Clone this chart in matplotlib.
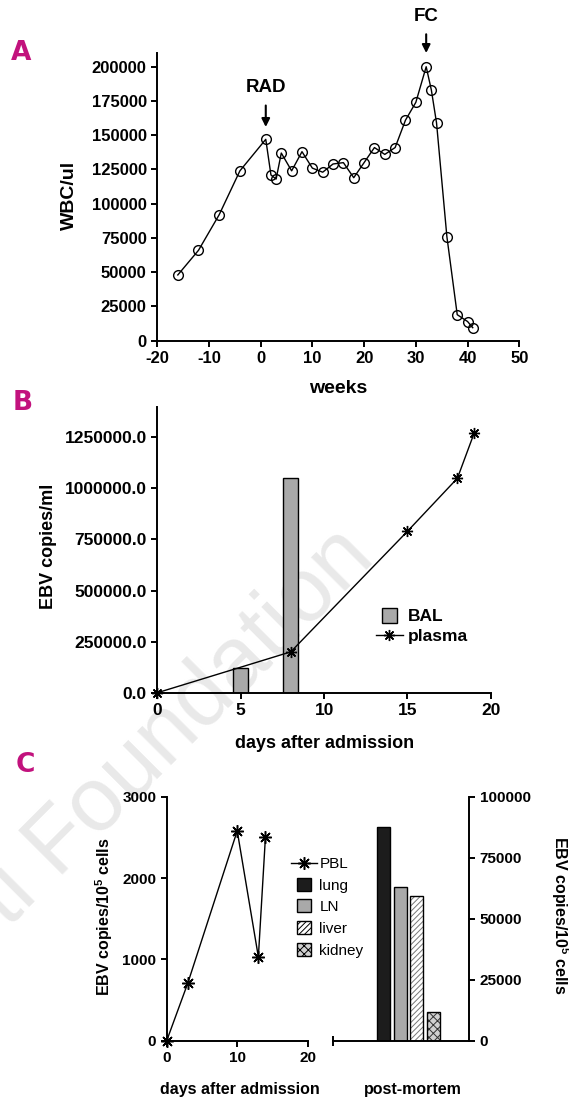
import matplotlib
matplotlib.use("Agg")
import matplotlib.pyplot as plt
import matplotlib.patches as mpatches
from matplotlib.lines import Line2D
from matplotlib.legend_handler import HandlerPatch
from matplotlib.ticker import FormatStrFormatter

plt.rcParams['font.family'] = ['Liberation Sans', 'DejaVu Sans']
plt.rcParams['font.weight'] = 'bold'
plt.rcParams['axes.labelweight'] = 'bold'
plt.rcParams['axes.unicode_minus'] = False
plt.rcParams['hatch.linewidth'] = 0.7
plt.rcParams['mathtext.fontset'] = 'custom'
plt.rcParams['mathtext.rm'] = 'Liberation Sans:bold'
plt.rcParams['mathtext.bf'] = 'Liberation Sans:bold'

# panel A - WBC over time
weeks = [-16, -12, -8, -4, 1, 2, 3, 4, 6, 8, 10, 12, 14, 16, 18, 20,
         22, 24, 26, 28, 30, 32, 33, 34, 36, 38, 40, 41]
wbc = [48000, 66000, 92000, 124000, 147000, 121000, 118000, 137000, 124000, 138000,
       126000, 123000, 129000, 130000, 119000, 130000, 141000, 136000, 141000, 161000,
       174000, 200000, 183000, 159000, 76000, 19000, 14000, 9500]

# panel B - EBV load
bal_days = [5, 8]
bal = [120000, 1050000]
plasma_days = [0, 8, 15, 18, 19]
plasma = [0, 200000, 790000, 1050000, 1270000]

# panel C - PBL and post-mortem organs
pbl_days = [0, 3, 10, 13, 14]
pbl = [0, 710, 2580, 1030, 2500]
organs = ['lung', 'LN', 'liver', 'kidney']
organ_vals = [87500, 63000, 59400, 11600]

MAGENTA = '#c2127d'
STAR = (8, 2, 0)


def square(size):
    def make(legend, orig_handle, xdescent, ydescent, width, height, fontsize):
        return mpatches.Rectangle((-xdescent + (width - size) / 2,
                                   -ydescent + (height - size) / 2), size, size)
    return make


def style(ax, size):
    for s in ['top', 'right']:
        ax.spines[s].set_visible(False)
    for s in ['left', 'bottom']:
        ax.spines[s].set_linewidth(1.4)
    ax.tick_params(direction='out', length=4, width=1.4, labelsize=size)
    ax.set_facecolor('none')


fig = plt.figure(figsize=(5.69, 10.98), dpi=100)

fig.text(0.663, 0.490, 'Ferrata Storti Foundation', rotation=45, rotation_mode='anchor',
         ha='right', va='baseline', fontsize=65, color='#e9e9e9', fontweight='normal', zorder=-1)

# ---- A ----
axa = fig.add_axes([0.2761, 0.6897, 0.6366, 0.262])
style(axa, 12)
axa.plot(weeks, wbc, color='k', lw=1, marker='o', ms=7, mfc='none', mec='k', mew=1, clip_on=False)
axa.set_xlim(-20, 50)
axa.set_ylim(0, 210000)
axa.set_xticks(range(-20, 51, 10))
axa.set_yticks(range(0, 200001, 25000))
axa.set_xlabel('weeks', fontsize=14)
axa.set_ylabel('WBC/ul', fontsize=14)
axa.xaxis.set_label_coords(0.5, -0.136)
axa.yaxis.set_label_coords(-0.218, 0.505)
arrow = dict(arrowstyle='-|>', color='k', lw=1.5, shrinkA=5, shrinkB=0, mutation_scale=12)
axa.annotate('RAD', xy=(1, 156000), xytext=(1, 185000), ha='center', va='center',
             fontsize=13.5, arrowprops=arrow, annotation_clip=False)
axa.annotate('FC', xy=(32, 210000), xytext=(32, 237000), ha='center', va='center',
             fontsize=13.5, arrowprops=arrow, annotation_clip=False)

# ---- B ----
axb = fig.add_axes([0.2766, 0.3691, 0.5859, 0.2605])
style(axb, 12.5)
axb.bar(bal_days, bal, width=0.88, color='#a9a9a9', edgecolor='k', lw=1, zorder=2)
axb.plot(plasma_days, plasma, color='k', lw=1, marker=STAR, ms=8, mew=1, zorder=3, clip_on=False)
axb.set_xlim(0, 20)
axb.set_ylim(0, 1400000)
axb.set_xticks([0, 5, 10, 15, 20])
axb.set_yticks(range(0, 1250001, 250000))
axb.yaxis.set_major_formatter(FormatStrFormatter('%.1f'))
axb.set_xlabel('days after admission', fontsize=13)
axb.set_ylabel('EBV copies/ml', fontsize=13)
axb.xaxis.set_label_coords(0.5, -0.148)
axb.yaxis.set_label_coords(-0.301, 0.51)
hb = [mpatches.Patch(facecolor='#a9a9a9', edgecolor='k', lw=1),
      Line2D([], [], color='k', lw=1, marker=STAR, ms=8, mew=1)]
axb.legend(hb, ['BAL', 'plasma'], loc='upper left', bbox_to_anchor=(376 / 569, 1 - 609 / 1098),
           bbox_transform=fig.transFigure, frameon=False, fontsize=12.5, borderpad=0,
           borderaxespad=0, handlelength=1.55, handletextpad=0.3, labelspacing=0.25,
           handler_map={mpatches.Patch: HandlerPatch(patch_func=square(10.8))})

# ---- C left ----
axc = fig.add_axes([0.2930, 0.0522, 0.2478, 0.2222])
style(axc, 11)
axc.plot(pbl_days, pbl, color='k', lw=1, marker=STAR, ms=9, mew=1.1, clip_on=False, zorder=3)
axc.set_xlim(0, 20)
axc.set_ylim(0, 3000)
axc.set_xticks([0, 10, 20])
axc.set_xticks([20], minor=True)
axc.tick_params(axis='x', which='minor', direction='in', length=4, width=1.4)
axc.set_yticks([0, 1000, 2000, 3000])
axc.set_xlabel('days after admission', fontsize=11.5)
axc.set_ylabel(r'EBV copies/10$^{5}$ cells', fontsize=11.5)
axc.xaxis.set_label_coords(0.518, -0.168)
axc.yaxis.set_label_coords(-0.37, 0.508)

# ---- C right ----
axr = fig.add_axes([0.5858, 0.0522, 0.2387, 0.2222])
axr.set_facecolor('none')
for s in ['top', 'left']:
    axr.spines[s].set_visible(False)
for s in ['right', 'bottom']:
    axr.spines[s].set_linewidth(1.4)
xpos = list(range(len(organs)))
faces = ['#1c1c1c', '#a9a9a9', 'white', '#d0d0d0']
hatches = ['', '', '//////', 'xxxx']
hcols = ['k', 'k', '#777777', '#333333']
for i in xpos:
    axr.bar(xpos[i], organ_vals[i], width=0.79, color=faces[i], hatch=hatches[i],
            edgecolor=hcols[i], lw=0)
    axr.bar(xpos[i], organ_vals[i], width=0.79, fill=False, edgecolor='k', lw=1)
axr.set_xlim(-3.05, 5.18)
axr.set_ylim(0, 100000)
axr.set_xticks([-3.05])
axr.set_xticklabels([''])
axr.tick_params(axis='x', direction='inout', length=7, width=1.4)
axr.yaxis.tick_right()
axr.yaxis.set_label_position('right')
axr.tick_params(axis='y', direction='out', length=4, width=1.4, labelsize=11)
axr.set_yticks(range(0, 100001, 25000))
axr.set_xlabel('post-mortem', fontsize=11.5)
axr.set_ylabel(r'EBV copies/10$^{5}$ cells', fontsize=11.5, rotation=270, va='bottom')
axr.xaxis.set_label_coords(0.585, -0.168)
axr.yaxis.set_label_coords(1.585, 0.513)

hc = [Line2D([], [], color='k', lw=1, marker=STAR, ms=9, mew=1.1)]
for i in xpos:
    hc.append(mpatches.Patch(facecolor=faces[i], hatch=hatches[i], edgecolor='k', lw=1))
axc.legend(hc, ['PBL'] + organs, loc='upper left', bbox_to_anchor=(291 / 569, 1 - 857 / 1098),
           bbox_transform=fig.transFigure, frameon=False, borderpad=0, borderaxespad=0,
           prop={'size': 11, 'weight': 'normal'}, handlelength=1.7, handletextpad=0.15,
           labelspacing=0.5,
           handler_map={mpatches.Patch: HandlerPatch(patch_func=square(9.4))})

# panel letters
for lab, x, y in [('A', 21.3, 52.7), ('B', 22.4, 402.5), ('C', 25, 765)]:
    fig.text(x / 569, 1 - y / 1098, lab, color=MAGENTA, fontsize=19, fontweight='bold',
             family=['Liberation Sans Narrow', 'DejaVu Sans'], ha='center', va='center')

fig.savefig('out.png', dpi=100)
